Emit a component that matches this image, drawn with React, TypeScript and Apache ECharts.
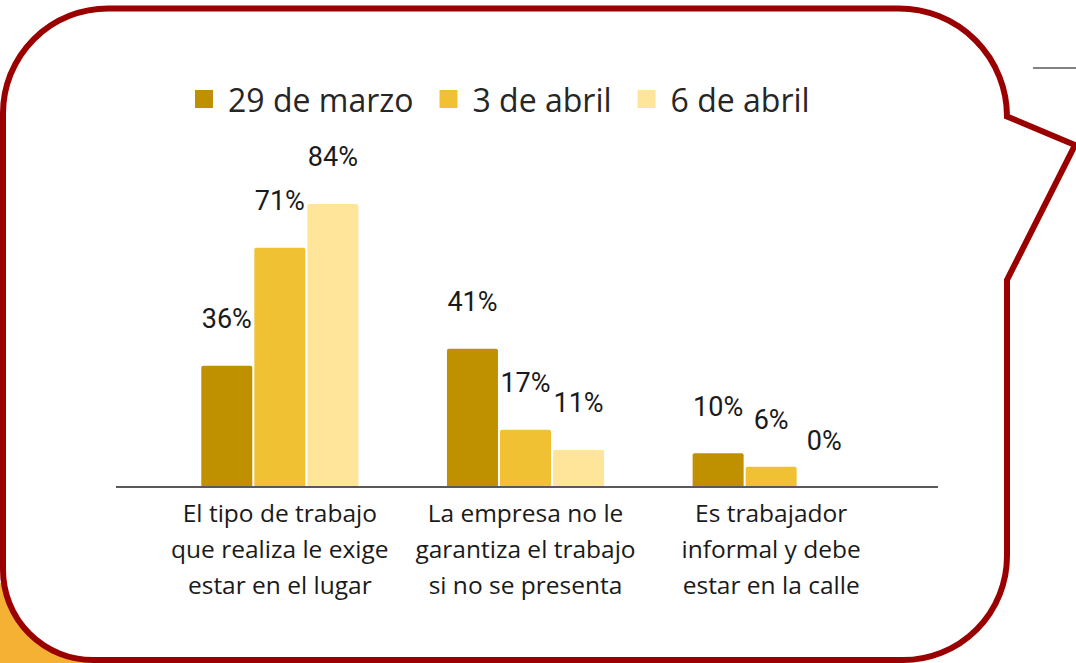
import React, { useEffect, useRef } from "react";
import * as echarts from "echarts";

const categories = [
  "El tipo de trabajo\nque realiza le exige\nestar en el lugar",
  "La empresa no le\ngarantiza el trabajo\nsi no se presenta",
  "Es trabajador\ninformal y debe\nestar en la calle",
];
const seriesNames = ["29 de marzo", "3 de abril", "6 de abril"];
const marzo29 = [36, 41, 10];
const abril3 = [71, 17, 6];
const abril6 = [84, 11, 0];
const seriesColors = ["#BF9000", "#F0C233", "#FFE599"];

const bubblePath =
  "M 108 8.5 L 899 8.5 A 108 108 0 0 1 1007 116.5 L 1075 145 L 1007 280 L 1007 556 A 104 104 0 0 1 903 660 L 93 660 A 90 90 0 0 1 3 570 L 3 113 A 105 105 0 0 1 108 8.5 Z";

let registered = false;
function ensureShape() {
  if (registered) return;
  echarts.graphic.registerShape("bubble", echarts.graphic.extendPath(bubblePath, {}));
  registered = true;
}

export default function App() {
  const ref = useRef<HTMLDivElement>(null);
  useEffect(() => {
    document.body.style.margin = "0";
    ensureShape();
    const chart = echarts.init(ref.current!, undefined, { renderer: "svg" });
    const values = [marzo29, abril3, abril6];
    chart.setOption({
      animation: false,
      backgroundColor: "#ffffff",
      graphic: [
        { type: "rect", z: -2, shape: { x: 0, y: 583, width: 90, height: 80 }, style: { fill: "#F4B133" } },
        { type: "bubble", z: -1, x: 0, y: 0, scaleX: 1, scaleY: 1, style: { fill: "#ffffff", stroke: "#9B0000", lineWidth: 6 } },
        { type: "line", z: 3, shape: { x1: 1033, y1: 68, x2: 1076, y2: 68 }, style: { stroke: "#595959", lineWidth: 1.5 } },
        { type: "line", z: 3, shape: { x1: 116, y1: 487, x2: 938, y2: 487 }, style: { stroke: "#595959", lineWidth: 2 } },
      ],
      legend: {
        left: 195,
        top: 83,
        padding: 0,
        itemWidth: 18,
        itemHeight: 18,
        itemGap: 26,
        icon: "rect",
        textStyle: { fontFamily: "Open Sans", fontSize: 32, color: "#262626", padding: [0, 0, 0, 10] },
        data: seriesNames,
      },
      grid: { left: 157, right: 182, top: 150, bottom: 176 },
      xAxis: {
        type: "category",
        z: 5,
        data: categories,
        axisLine: { show: false },
        axisTick: { show: false },
        axisLabel: { margin: 8, fontFamily: "Open Sans", fontSize: 24.5, lineHeight: 35.7, color: "#1a1a1a", interval: 0 },
      },
      yAxis: { type: "value", min: 0, max: 100, show: false, splitLine: { show: false } },
      series: seriesNames.map((name, i) => ({
        name,
        type: "bar",
        data: values[i],
        barWidth: 51,
        barGap: "4%",
        itemStyle: { color: seriesColors[i], borderRadius: [2, 2, 0, 0] },
        label: {
          show: true,
          position: "top",
          distance: 33,
          formatter: "{c}%",
          fontFamily: "Roboto",
          fontSize: 27,
          lineHeight: 27,
          color: "#1a1a1a",
        },
      })),
    });
    return () => chart.dispose();
  }, []);
  return <div ref={ref} style={{ position: "absolute", left: 0, top: 0, width: 1076, height: 663 }} />;
}
